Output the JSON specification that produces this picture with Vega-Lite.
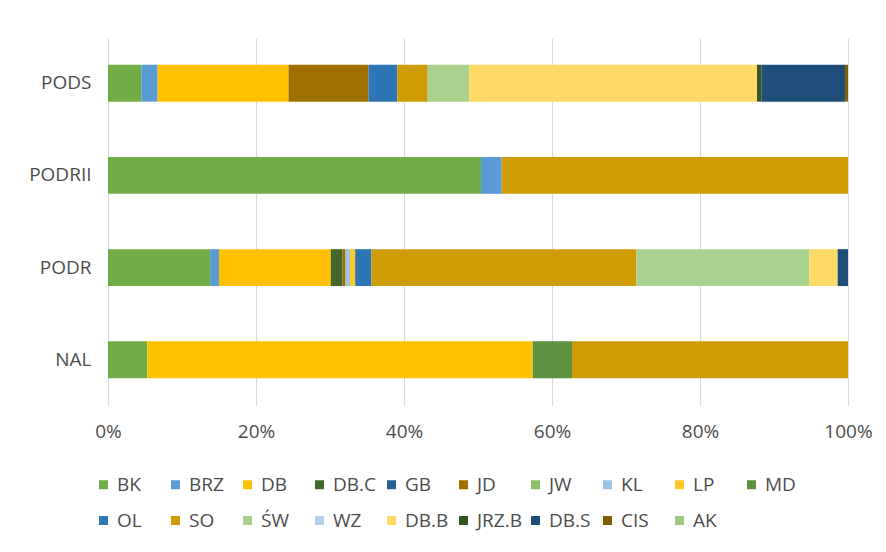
{
  "$schema": "https://vega.github.io/schema/vega-lite/v6.json",
  "autosize": {"type": "none"},
  "width": 740,
  "height": 367,
  "padding": {"left": 108, "top": 38, "right": 38, "bottom": 147},
  "background": "white",
  "data": {
    "values": [
      {"cat": "PODS", "s": "BK", "v": 4.5},
      {"cat": "PODS", "s": "BRZ", "v": 2.2},
      {"cat": "PODS", "s": "DB", "v": 17.7},
      {"cat": "PODS", "s": "JD", "v": 10.8},
      {"cat": "PODS", "s": "OL", "v": 3.9},
      {"cat": "PODS", "s": "SO", "v": 4.1},
      {"cat": "PODS", "s": "ŚW", "v": 5.6},
      {"cat": "PODS", "s": "DB.B", "v": 38.9},
      {"cat": "PODS", "s": "JRZ.B", "v": 0.6},
      {"cat": "PODS", "s": "DB.S", "v": 11.3},
      {"cat": "PODS", "s": "CIS", "v": 0.4},
      {"cat": "PODRII", "s": "BK", "v": 50.4},
      {"cat": "PODRII", "s": "BRZ", "v": 2.8},
      {"cat": "PODRII", "s": "SO", "v": 46.8},
      {"cat": "PODR", "s": "BK", "v": 13.8},
      {"cat": "PODR", "s": "BRZ", "v": 1.2},
      {"cat": "PODR", "s": "DB", "v": 15.1},
      {"cat": "PODR", "s": "DB.C", "v": 1.6},
      {"cat": "PODR", "s": "JD", "v": 0.4},
      {"cat": "PODR", "s": "KL", "v": 0.6},
      {"cat": "PODR", "s": "LP", "v": 0.7},
      {"cat": "PODR", "s": "OL", "v": 2.2},
      {"cat": "PODR", "s": "SO", "v": 35.8},
      {"cat": "PODR", "s": "ŚW", "v": 23.4},
      {"cat": "PODR", "s": "DB.B", "v": 3.8},
      {"cat": "PODR", "s": "DB.S", "v": 1.4},
      {"cat": "NAL", "s": "BK", "v": 5.3},
      {"cat": "NAL", "s": "DB", "v": 52.1},
      {"cat": "NAL", "s": "MD", "v": 5.3},
      {"cat": "NAL", "s": "SO", "v": 37.3}
    ]
  },
  "transform": [
    {"calculate": "indexof(['BK','BRZ','DB','DB.C','GB','JD','JW','KL','LP','MD','OL','SO','ŚW','WZ','DB.B','JRZ.B','DB.S','CIS','AK'], datum.s)", "as": "k"}
  ],
  "mark": {"type": "bar"},
  "encoding": {
    "y": {
      "field": "cat",
      "type": "nominal",
      "sort": ["PODS", "PODRII", "PODR", "NAL"],
      "scale": {"paddingInner": 0.6, "paddingOuter": 0.29},
      "axis": {
        "title": null,
        "domain": false,
        "ticks": false,
        "labelPadding": 17,
        "labelFontSize": 19,
        "labelColor": "#4D4D4D",
        "labelFont": "Open Sans"
      }
    },
    "x": {
      "field": "v",
      "type": "quantitative",
      "stack": "normalize",
      "scale": {"domain": [0, 1], "nice": false},
      "axis": {
        "title": null,
        "format": ".0%",
        "values": [0, 0.2, 0.4, 0.6, 0.8, 1],
        "domain": false,
        "ticks": false,
        "grid": true,
        "gridColor": "#D9D9D9",
        "labelPadding": 17,
        "labelFontSize": 19,
        "labelColor": "#4D4D4D",
        "labelFont": "Open Sans",
        "labelFlush": false
      }
    },
    "order": {"field": "k", "type": "quantitative", "sort": "ascending"},
    "color": {
      "field": "s",
      "type": "nominal",
      "sort": ["BK", "BRZ", "DB", "DB.C", "GB", "JD", "JW", "KL", "LP", "MD", "OL", "SO", "ŚW", "WZ", "DB.B", "JRZ.B", "DB.S", "CIS", "AK"],
      "scale": {
        "domain": ["BK", "BRZ", "DB", "DB.C", "GB", "JD", "JW", "KL", "LP", "MD", "OL", "SO", "ŚW", "WZ", "DB.B", "JRZ.B", "DB.S", "CIS", "AK"],
        "range": ["#70AD47", "#5B9BD5", "#FFC000", "#43682B", "#255E91", "#9E7000", "#8CC16A", "#9DC3E6", "#FFCA28", "#5B9140", "#2E75B6", "#CF9C06", "#A9D18E", "#B4CFEA", "#FFD966", "#375623", "#1F4E79", "#7F6000", "#9DC983"]
      },
      "legend": {
        "title": null,
        "orient": "none",
        "legendX": -14,
        "legendY": 437,
        "direction": "horizontal",
        "columns": 10,
        "gridAlign": "all",
        "columnPadding": 4,
        "rowPadding": 16,
        "symbolType": "square",
        "symbolSize": 81,
        "symbolStrokeWidth": 0,
        "labelFontSize": 19,
        "labelColor": "#4D4D4D",
        "labelFont": "Open Sans",
        "labelOffset": 4
      }
    }
  },
  "config": {"view": {"stroke": null}}
}
